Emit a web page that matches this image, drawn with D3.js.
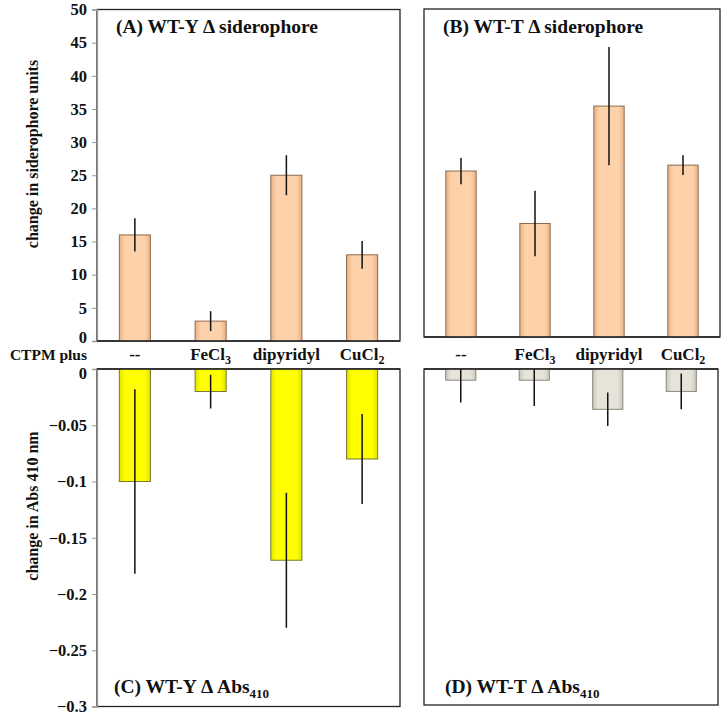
<!DOCTYPE html>
<html><head><meta charset="utf-8">
<script src="https://cdn.jsdelivr.net/npm/d3@7"></script>
<style>body{margin:0;background:#fff}svg{display:block}svg text{font-family:'Liberation Serif','DejaVu Serif',serif !important;font-weight:700;fill:#111}</style>
</head><body><svg id="c" width="726" height="719"></svg>
<script>
const categories = ["--", "FeCl3", "dipyridyl", "CuCl2"];
const sidWTY = [16, 3, 25, 13];
const sidWTYerr = [2.5, 1.5, 3, 2.1];
const sidWTT = [25.3, 17.3, 35.2, 26.2];
const sidWTTerr = [2, 5, 9, 1.5];
const absWTY = [-0.1, -0.02, -0.17, -0.08];
const absWTYerr = [0.082, 0.015, 0.06, 0.04];
const absWTT = [-0.01, -0.01, -0.036, -0.02];
const absWTTerr = [0.02, 0.023, 0.015, 0.016];
const sidTicks = [0, 5, 10, 15, 20, 25, 30, 35, 40, 45, 50];
const absTicks = [0, -0.05, -0.1, -0.15, -0.2, -0.25, -0.3];

const FONT = "'Liberation Serif','DejaVu Serif',serif";
const svg = d3.select("#c");
const defs = svg.append("defs");
function grad(id, edge, mid) {
  const g = defs.append("linearGradient").attr("id", id).attr("x1", 0).attr("x2", 1).attr("y1", 0).attr("y2", 0);
  g.append("stop").attr("offset", "0%").attr("stop-color", edge);
  g.append("stop").attr("offset", "18%").attr("stop-color", mid);
  g.append("stop").attr("offset", "82%").attr("stop-color", mid);
  g.append("stop").attr("offset", "100%").attr("stop-color", edge);
}
grad("peach", "#e9b286", "#fdd1a9");
grad("yellow", "#e2e200", "#ffff00");
grad("grey", "#c9c7ba", "#e6e4da");

function catLabel(sel, c) {
  const m = c.match(/^(.*Cl)(\d)$/);
  if (m) {
    sel.append("tspan").text(m[1]);
    sel.append("tspan").attr("font-size", 12).attr("dy", 4).text(m[2]);
  } else sel.text(c);
}

function panel(o) {
  const g = svg.append("g");
  const x = d3.scaleBand().domain(categories).range([o.x0, o.x1]).paddingInner(0.59).paddingOuter(0.295);
  const y = d3.scaleLinear().domain(o.domain).range([o.y0, o.y1]);
  const clipId = "clip" + o.id;
  defs.append("clipPath").attr("id", clipId).append("rect")
    .attr("x", o.x0).attr("y", Math.min(o.y0, o.y1)).attr("width", o.x1 - o.x0).attr("height", Math.abs(o.y1 - o.y0));
  g.append("rect").attr("x", o.x0).attr("y", Math.min(o.y0, o.y1)).attr("width", o.x1 - o.x0)
    .attr("height", Math.abs(o.y1 - o.y0)).attr("fill", "none").attr("stroke", "#222").attr("stroke-width", 1.3);
  const bars = g.append("g").attr("clip-path", `url(#${clipId})`);
  bars.selectAll("rect").data(o.values).join("rect")
    .attr("x", (d, i) => x(categories[i]))
    .attr("width", x.bandwidth())
    .attr("y", d => Math.min(y(0), y(d)))
    .attr("height", d => Math.abs(y(d) - y(0)))
    .attr("fill", `url(#${o.fill})`)
    .attr("stroke", o.stroke).attr("stroke-width", 1);
  bars.selectAll("line.err").data(o.values).join("line").attr("class", "err")
    .attr("x1", (d, i) => x(categories[i]) + x.bandwidth() / 2)
    .attr("x2", (d, i) => x(categories[i]) + x.bandwidth() / 2)
    .attr("y1", (d, i) => y(d + o.err[i]))
    .attr("y2", (d, i) => y(d - o.err[i]))
    .attr("stroke", "#111").attr("stroke-width", 1.5);
  if (o.axis) {
    const ax = g.append("g").attr("transform", `translate(${o.x0},0)`)
      .call(d3.axisLeft(y).tickValues(o.ticks).tickSize(5).tickPadding(5).tickFormat(d => d3.format("")(d)));
    ax.attr("font-family", FONT);
    ax.select(".domain").attr("stroke", "#999").attr("stroke-width", 1.3);
    ax.selectAll(".tick line").attr("stroke", "#999");
    ax.selectAll(".tick text").attr("font-size", 16.5).attr("fill", "#111")
      .attr("font-family", FONT).attr("font-weight", "bold")
      .attr("dy", d => d === 0 ? (o.zeroShift) + "em" : "0.32em");
  }
  g.append("line").attr("x1", o.x0).attr("x2", o.x1).attr("y1", y(0)).attr("y2", y(0)).attr("stroke", "#222").attr("stroke-width", 1.3);
  const t = g.append("text").attr("x", o.tx).attr("y", o.ty).attr("font-size", 19.5).attr("font-family", FONT);
  t.append("tspan").text(o.title);
  if (o.sub) t.append("tspan").attr("font-size", 13).attr("dy", 5).text(o.sub);
  if (o.catY) {
    g.selectAll("text.cat").data(categories).join("text").attr("class", "cat")
      .attr("x", d => x(d) + x.bandwidth() / 2).attr("y", o.catY)
      .attr("text-anchor", "middle").attr("font-size", 17).attr("font-family", FONT)
      .each(function (d) { catLabel(d3.select(this), d); });
  }
  return g;
}

panel({id: "A", x0: 97, x1: 400, y0: 341, y1: 9.5, domain: [0, 50], values: sidWTY, err: sidWTYerr, fill: "peach", stroke: "#8d6a50", axis: true, zeroShift: 0.08, ticks: sidTicks, title: "(A) WT-Y \u0394 siderophore", tx: 116, ty: 33, catY: 360});
panel({id: "B", x0: 424, x1: 720, y0: 337, y1: 9, domain: [0, 50], values: sidWTT, err: sidWTTerr, fill: "peach", stroke: "#8d6a50", axis: false, title: "(B) WT-T \u0394 siderophore", tx: 443, ty: 33, catY: 360});
panel({id: "C", x0: 97, x1: 400, y0: 369, y1: 706.5, domain: [0, -0.3], values: absWTY, err: absWTYerr, fill: "yellow", stroke: "#7a7a30", axis: true, zeroShift: 0.58, ticks: absTicks, title: "(C) WT-Y \u0394 Abs", sub: "410", tx: 114, ty: 693});
panel({id: "D", x0: 424, x1: 718, y0: 369, y1: 705, domain: [0, -0.3], values: absWTT, err: absWTTerr, fill: "grey", stroke: "#8a8878", axis: false, title: "(D) WT-T \u0394 Abs", sub: "410", tx: 445, ty: 693});

svg.append("text").attr("x", 87).attr("y", 360).attr("text-anchor", "end").attr("font-size", 15.5).attr("font-family", FONT).text("CTPM plus");
svg.append("text").attr("transform", "translate(38,154) rotate(-90)").attr("text-anchor", "middle").attr("font-size", 16).attr("font-family", FONT).text("change in siderophore units");
svg.append("text").attr("transform", "translate(38,506) rotate(-90)").attr("text-anchor", "middle").attr("font-size", 16).attr("font-family", FONT).text("change in Abs 410 nm");
</script></body></html>
